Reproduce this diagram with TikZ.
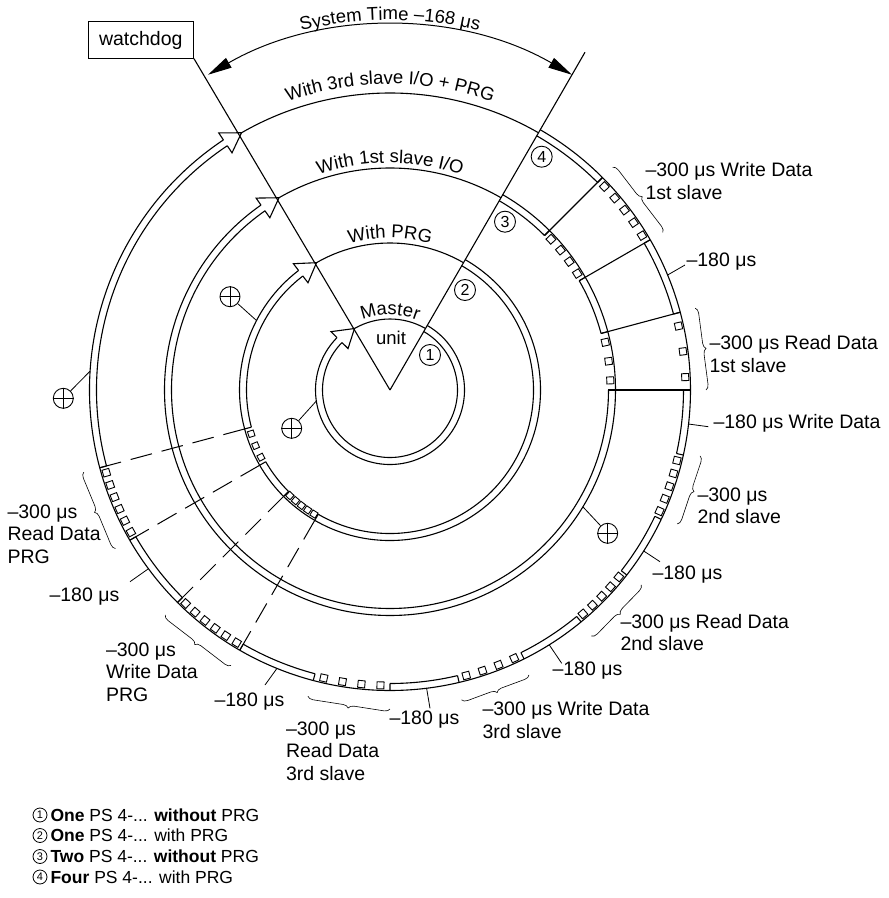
\documentclass[tikz,border=0pt]{standalone}
\usepackage{fontspec}
\setmainfont{Liberation Sans}
\usetikzlibrary{arrows.meta,decorations.pathreplacing,decorations.text}

\newcommand\hgap{3.5}
\newcommand\ringseg[4]{%
  \pgfmathsetmacro\rOut{#1+\hgap}%
  \pgfmathsetmacro\rIn{#1-\hgap}%
  \pgfmathsetmacro\rSq{#1-1.5}%
  \draw (#2:\rOut) arc[start angle=#2, end angle=#3, radius=\rOut pt];
  \ifnum#4=0
    \draw (#2:\rIn) arc[start angle=#2, end angle=#3, radius=\rIn pt];
  \else
    \foreach \k in {1,...,#4}{%
      \pgfmathsetmacro\sqa{#2-(\k-0.5)*(#2-#3)/#4}%
      \node[sqbox, rotate=\sqa] at (\sqa:\rSq) {};}
    \draw (#2:\rIn) -- (#2:\rOut) (#3:\rIn) -- (#3:\rOut);
  \fi}
\newcommand\ringhead[1]{%
  \pgfmathsetmacro\hb{120+19/#1*57.2958}%
  \pgfmathsetmacro\rA{#1+\hgap}\pgfmathsetmacro\rB{#1-\hgap}%
  \pgfmathsetmacro\rC{#1+12}\pgfmathsetmacro\rD{#1-12}%
  \draw (\hb:\rA) -- (\hb:\rC) -- (120:#1) -- (\hb:\rD) -- (\hb:\rB);
  \draw (120:#1) arc[start angle=120, end angle=60, radius=#1pt];}
\newcommand\lastseg[2]{%
  \pgfmathsetmacro\hbm{120+19/#1*57.2958-360}%
  \ringseg{#1}{#2}{\hbm}{0}}

\begin{document}
\begin{tikzpicture}[x=1pt,y=1pt,line width=1.1pt,
  lbl/.style={font=\fontsize{19.5}{22.5}\selectfont, align=left, anchor=west, inner sep=0pt},
  sqbox/.style={draw, minimum size=7pt, inner sep=0pt, line width=0.9pt},
  bracestyle/.style={decorate, decoration={brace, amplitude=5.5pt}, line width=0.6pt},
  leader/.style={line width=0.8pt},
  numc/.style={circle, draw, line width=0.9pt, minimum size=21pt, inner sep=0pt, font=\fontsize{16}{16}\selectfont},
  legc/.style={circle, draw, line width=0.8pt, minimum size=14pt, inner sep=0pt, font=\fontsize{11}{11}\selectfont},
  plusc/.style={circle, draw, line width=0.9pt, minimum size=20pt, inner sep=0pt},
  dashline/.style={dash pattern=on 22pt off 10pt, line width=1pt}]
\useasboundingbox (-390,-508) rectangle (499,390);

% V lines and watchdog
\coordinate (ctr) at (0,0);
\node[draw, minimum width=105.6pt, minimum height=36.6pt, inner sep=0pt, line width=0.9pt,
  font=\fontsize{19.5}{19.5}\selectfont] (wd) at (-249.2,350) {watchdog};
\coordinate (vr) at (60:390);
\draw (ctr) -- (wd.south east);
\draw (ctr) -- (vr);

% system time
\coordinate (st1) at (120:364);
\draw[{Triangle[length=24pt,width=11pt]}-{Triangle[length=24pt,width=11pt]}, line width=1pt]
  (st1) arc[start angle=120, end angle=60, radius=364pt];
\path[decorate, decoration={text along path, text align=center,
  text={|\fontsize{18.5}{18.5}\selectfont|System Time –168 μs}}]
  (120:370) arc[start angle=120, end angle=60, radius=370pt];

% ring 4
\foreach \a/\b/\n in {60/45/0, 45/30/5, 30/15/0, 15/0/3, 0/-12.5/0, -12.5/-25.5/5,
  -25.5/-38/0, -38/-50.5/5, -50.5/-63.5/0, -63.5/-76.7/4, -76.7/-90/0, -90/-104.8/4,
  -104.8/-120/0, -120/-135/6, -135/-150/0, -150/-165/6}{\ringseg{297}{\a}{\b}{\n}}
\lastseg{297}{-165}
\ringhead{297}
% ring 3
\foreach \a/\b/\n in {60/45/0, 45/30/4, 30/15/0, 15/0/3}{\ringseg{222}{\a}{\b}{\n}}
\lastseg{222}{0}
\ringhead{222}
% ring 2
\begin{scope}[sqbox/.style={draw, minimum size=6pt, inner sep=0pt, line width=0.9pt}]
\foreach \a/\b/\n in {60/-120/0, -120/-135/5, -135/-150/0, -150/-165/3}{\ringseg{147}{\a}{\b}{\n}}
\end{scope}
\lastseg{147}{-165}
\ringhead{147}
% ring 1
\lastseg{71}{60}
\ringhead{71}

% radial connectors
\foreach \t in {45,30,15,0}{\draw (\t:218.5) -- (\t:300.5);}
\foreach \t in {195,210,225,240}{\draw[dashline] (\t:150.5) -- (\t:309);}

% ring titles
\path[decorate, decoration={text along path, text align=center,
  text={|\fontsize{18.5}{18.5}\selectfont|With 3rd slave I/O + PRG}}]
  (120:306) arc[start angle=120, end angle=60, radius=306pt];
\path[decorate, decoration={text along path, text align=center,
  text={|\fontsize{18.5}{18.5}\selectfont|With 1st slave I/O}}]
  (120:227) arc[start angle=120, end angle=60, radius=227pt];
\path[decorate, decoration={text along path, text align=center,
  text={|\fontsize{18.5}{18.5}\selectfont|With PRG}}]
  (120:152) arc[start angle=120, end angle=60, radius=152pt];
\path[decorate, decoration={text along path, text align=center,
  text={|\fontsize{18.5}{18.5}\selectfont|Master}}]
  (120:75) arc[start angle=120, end angle=60, radius=75pt];
\node[font=\fontsize{18.5}{18.5}\selectfont, inner sep=0pt] (unit) at (1,52) {unit};

% circled numbers
\node[numc] (c1) at (40,35) {1};
\node[numc] (c2) at (75,100) {2};
\node[numc] (c3) at (115,168.3) {3};
\node[numc] (c4) at (151.7,233.3) {4};

% plus circles
\foreach \nm/\pos/\ang/\rr in {p1/{(-160,93.3)}/152.5/150.5, p2/{(-98.3,-38.3)}/188.5/74.5,
  p3/{(-326.7,-8.3)}/176.4/300.5, p4/{(217.7,-143.3)}/-31.2/225.5}{
  \node[plusc] (\nm) at \pos {};
  \draw[line width=0.8pt] (\nm.north) -- (\nm.south) (\nm.west) -- (\nm.east);
  \coordinate (\nm r) at (\ang:\rr);
  \draw[leader] (\nm) -- (\nm r);}

% braces
\draw[bracestyle] (45:315) -- (30:315);
\draw[bracestyle] (15:316) -- (0:316);
\draw[bracestyle] (-12:317) -- (-25:317);
\draw[bracestyle] (-37.8:318) -- (-50.7:318);
\draw[bracestyle] (-64:317) -- (-77:318);
\draw[bracestyle] (-90:319) -- (-105:317);
\draw[bracestyle] (240:318) -- (225:318);
\draw[bracestyle] (210:317) -- (195:317);

% labels
\node[lbl] (lA) at (255,209) {–300 μs Write Data\\1st slave};
\node[lbl] (lB) at (296,128) {–180 μs};
\node[lbl] (lC) at (319,36) {–300 μs Read Data\\1st slave};
\node[lbl] (lD) at (323,-33) {–180 μs Write Data};
\node[lbl] (lE) at (307,-116) {–300 μs\\2nd slave};
\node[lbl] (lF) at (262,-185) {–180 μs};
\node[lbl] (lG) at (230,-242.5) {–300 μs Read Data\\2nd slave};
\node[lbl] (lH) at (162,-281) {–180 μs};
\node[lbl] (lI) at (92,-330) {–300 μs Write Data\\3rd slave};
\node[lbl] (lJ) at (-1,-330) {–180 μs};
\node[lbl] (lK) at (-104.5,-361) {–300 μs\\Read Data\\3rd slave};
\node[lbl] (lL) at (-176,-311.7) {–180 μs};
\node[lbl] (lM) at (-383,-144) {–300 μs\\Read Data\\PRG};
\node[lbl] (lN) at (-341,-206.7) {–180 μs};
\node[lbl] (lO) at (-284.5,-282) {–300 μs\\Write Data\\PRG};

% leaders for -180 labels
\foreach \nm/\ang/\ex/\ey in {B/22.5/295/125, D/-6.5/318.3/-36.7, F/-32.4/270/-171.7,
  H/-58/171.7/-273.3, J/-83/40/-318.3, L/247.9/-125/-295, N/216.5/-260/-191.7}{
  \coordinate (s\nm) at (\ang:300.5);
  \coordinate (e\nm) at (\ex,\ey);
  \draw[leader] (s\nm) -- (e\nm);}

% legend
\foreach \i/\y/\txt in {1/-425/{\textbf{One} PS 4-... \textbf{without} PRG},
  2/-445.5/{\textbf{One} PS 4-... with PRG},
  3/-466.5/{\textbf{Two} PS 4-... \textbf{without} PRG},
  4/-487/{\textbf{Four} PS 4-... with PRG}}{
  \node[legc] (lc\i) at (-350,\y) {\i};
  \node[lbl, font=\fontsize{17.5}{20}\selectfont] (lt\i) at (-340,\y) {\txt};}
\end{tikzpicture}
\end{document}
